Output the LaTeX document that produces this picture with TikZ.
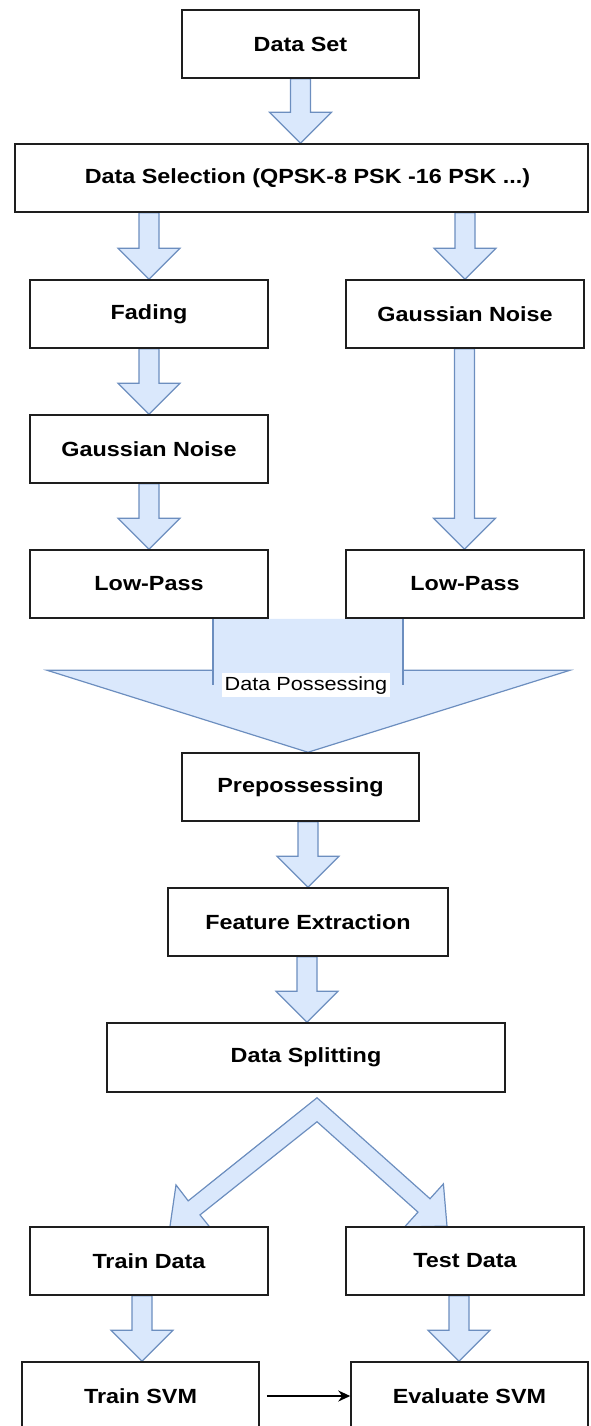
\documentclass[tikz,border=0pt]{standalone}
\usepackage{fontspec}
\setmainfont{Liberation Sans}[FakeStretch=1.14]
\usetikzlibrary{calc,arrows.meta,backgrounds}
\definecolor{afill}{HTML}{DAE8FC}
\definecolor{adraw}{HTML}{6C8EBF}
\definecolor{boxc}{HTML}{1E1E1E}
\tikzset{
  box/.style={draw=boxc, line width=1.5pt, fill=white,
    font=\bfseries\fontsize{20.5}{24}\selectfont,
    minimum height=68pt, inner sep=0pt},
  blockarrow/.style={fill=afill, draw=adraw, line width=1.2pt, line join=miter},
  blockfill/.style={fill=afill, draw=none},
  blockline/.style={draw=adraw, line width=1.2pt},
  lab/.style={fill=white, font=\fontsize{19}{22}\selectfont, inner xsep=3pt, inner ysep=3pt},
  thinarrow/.style={draw=black, line width=1.6pt, -{Stealth[length=12pt,width=11pt]}},
}
\newcommand\barrow[2]{%
  \path[blockarrow] let \p1=#1, \p2=#2 in
    (\x1-10pt,\y1) -- (\x1+10pt,\y1) -- (\x1+10pt,\y2+31pt) --
    (\x1+31pt,\y2+31pt) -- (\x1,\y2) -- (\x1-31pt,\y2+31pt) --
    (\x1-10pt,\y2+31pt) -- cycle;}

\begin{document}
\begin{tikzpicture}[x=1pt,y=-1pt]
\useasboundingbox (0,0) rectangle (590,1426);
\clip (0,0) rectangle (590,1426);

% boxes
\node[box, minimum width=237pt, minimum height=68pt] (ds) at (300.5,44) {Data Set};
\node[box, minimum width=573pt] (sel) at (301.5,178) {\hspace*{12pt}Data Selection (QPSK-8 PSK -16 PSK ...)};
\node[box, minimum width=238pt] (fad) at (149,314) {Fading};
\node[box, minimum width=238pt] (gn2) at (465,314) {Gaussian Noise};
\node[box, minimum width=238pt] (gn1) at (149,449) {Gaussian Noise};
\node[box, minimum width=238pt] (lp1) at (149,584) {Low-Pass};
\node[box, minimum width=238pt] (lp2) at (465,584) {Low-Pass};
\node[box, minimum width=237pt] (pre) at (300.5,787) {Prepossessing};
\node[box, minimum width=280pt] (fe) at (308,922) {Feature Extraction};
\node[box, minimum width=398pt, minimum height=69pt] (spl) at (306,1057.5) {Data Splitting};
\node[box, minimum width=238pt] (trd) at (149,1261) {Train Data};
\node[box, minimum width=238pt] (ted) at (465,1261) {Test Data};
\node[box, minimum width=237pt] (tsvm) at (140.5,1396) {Train SVM};
\node[box, minimum width=237pt] (esvm) at (469.5,1396) {Evaluate SVM};

\coordinate (tipP) at (fe.north |- pre.north);
\node[lab] (dpl) at ($(tipP)+(-2,-67)$) {Data Possessing};

\draw[thinarrow] ([xshift=7pt]tsvm.east) -- (esvm.west);

\begin{scope}[on background layer]
  \barrow{(ds.south)}{(sel.north)}
  \barrow{(fad.north |- sel.south)}{(fad.north)}
  \barrow{(gn2.north |- sel.south)}{(gn2.north)}
  \barrow{(fad.south)}{(gn1.north)}
  \barrow{(gn1.south)}{(lp1.north)}
  \barrow{($(gn2.south)+(-0.5,0)$)}{(lp2.north)}
  \barrow{(fe.north |- pre.south)}{(fe.north)}
  \barrow{($(fe.south)+(-1,0)$)}{(spl.north)}
  \barrow{($(tsvm.north |- trd.south)+(1.5,0)$)}{(tsvm.north)}
  \barrow{($(ted.south)+(-6,0)$)}{(esvm.north)}

  % Data Possessing merge arrow
  \path[blockfill] let \p1=(tipP), \p2=(lp1.south) in
    (\x1-95pt,\y2) -- (\x1+95pt,\y2) -- (\x1+95pt,\y1+82pt) --
    (\x1+262pt,\y1+82pt) -- (\x1,\y1) -- (\x1-261pt,\y1+82pt) --
    (\x1-95pt,\y1+82pt) -- cycle;
  \draw[blockline, line join=miter] let \p1=(tipP) in
    (\x1-95pt,\y1+82pt) -- (\x1-261pt,\y1+82pt) -- (\x1,\y1) --
    (\x1+262pt,\y1+82pt) -- (\x1+95pt,\y1+82pt);
  \draw[blockline] let \p1=(tipP), \p2=(lp1.south) in
    (\x1-95pt,\y2) -- (\x1-95pt,\y1+67pt)
    (\x1+95pt,\y2) -- (\x1+95pt,\y1+67pt);

  % split chevron
  \coordinate (apex) at ($(spl.south)+(11,5)$);
  \path[blockarrow] (apex)
    -- ++(-128.8,103.1) coordinate (j1o)
    -- (176,1184.9) -- (169.9,1226.9) -- (212.2,1230.1) -- (200,1214.9)
    -- ($(apex)+(0,24)$)
    -- (418,1212.1) -- (404.6,1226.9) -- (447,1226.1) -- (443.4,1183.9)
    -- (430,1198.7) -- cycle;
\end{scope}
\end{tikzpicture}
\end{document}
